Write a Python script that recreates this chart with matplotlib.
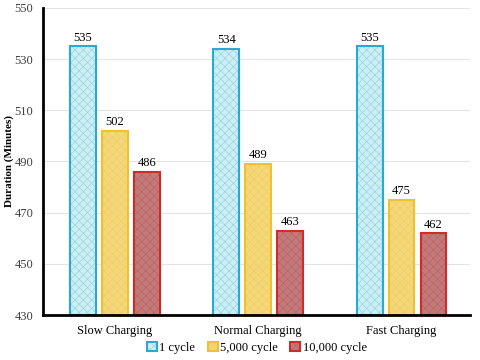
import matplotlib.pyplot as plt
import numpy as np

plt.rcParams['font.family'] = ['Liberation Serif', 'DejaVu Serif']
plt.rcParams['hatch.linewidth'] = 0.5

categories = ["Slow Charging", "Normal Charging", "Fast Charging"]
series = ["1 cycle", "5,000 cycle", "10,000 cycle"]
cycle_1 = [535, 534, 535]
cycle_5000 = [502, 489, 475]
cycle_10000 = [486, 463, 462]

faces = ["#cdeef2", "#f3d77a", "#bf7b7b"]
edges = ["#2aa9d2", "#f0c030", "#d02a2a"]

fig = plt.figure(figsize=(4.8, 3.6), dpi=100)
ax = fig.add_axes([0.09, 0.125, 0.89, 0.853])

x = np.arange(len(categories))
w = 0.18
off = 0.223
for i, vals in enumerate([cycle_1, cycle_5000, cycle_10000]):
    bars = ax.bar(x + (i - 1) * off, [v - 430 for v in vals], w, bottom=430,
                  color=faces[i], edgecolor=edges[i], linewidth=1.5,
                  hatch='xxxx', label=series[i])
    for b in bars:
        b._hatch_color = plt.matplotlib.colors.to_rgba(edges[i], 0.35)
    for xi, v in zip(x + (i - 1) * off, vals):
        ax.text(xi, v + 1, str(v), ha='center', va='bottom', fontsize=9)

ax.set_ylim(430, 550)
ax.set_xlim(-0.5, 2.48)
ax.set_yticks(range(430, 551, 20))
ax.set_xticks(x)
ax.set_xticklabels(categories, fontsize=9)
ax.tick_params(axis='y', labelsize=9, length=0, pad=7, colors='#404040')
ax.tick_params(axis='x', length=0, pad=7)
ax.yaxis.grid(True, color='#e4e4e4', linewidth=0.8)
ax.set_axisbelow(True)
for s in ['top', 'right']:
    ax.spines[s].set_visible(False)
ax.spines['left'].set_linewidth(2)
ax.spines['bottom'].set_linewidth(2)
ax.set_ylabel("Duration (Minutes)", fontsize=8, fontweight='bold')
ax.yaxis.set_label_coords(-0.068, 0.5)

ax.legend(loc='center', bbox_to_anchor=(0.5, -0.107), ncol=3, frameon=False,
          fontsize=9, handlelength=0.8, handleheight=0.8, handletextpad=0.2,
          columnspacing=1.0, borderpad=0.1)

fig.savefig("out.png", dpi=100)
